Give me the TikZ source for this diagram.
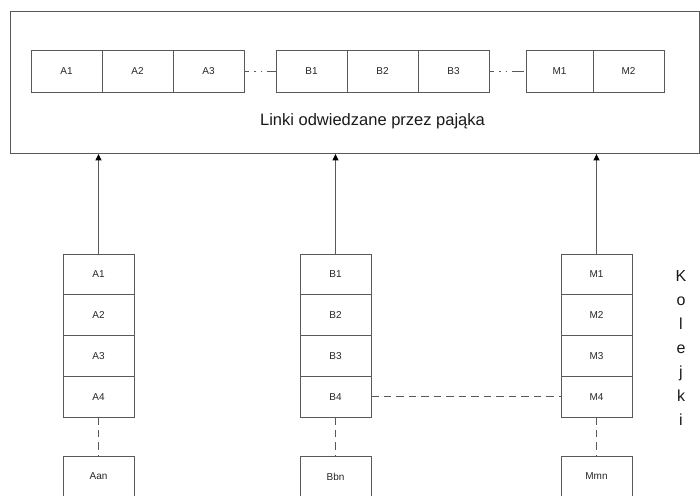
\documentclass[tikz,border=0pt]{standalone}
\usepackage{fontspec}
\setmainfont{Liberation Sans}
\usetikzlibrary{arrows.meta}
\begin{document}
\begin{tikzpicture}[x=1pt,y=-1pt,
  ln/.style={draw=black!65, line width=0.95pt},
  cell/.style={ln, rectangle, minimum width=71pt, minimum height=42pt, inner sep=0pt,
    font=\fontsize{10}{12}\selectfont, text=black!85},
  qcell/.style={cell, minimum height=40.75pt},
  dotdash/.style={ln, dash pattern=on 5pt off 5pt on 1.2pt off 5pt on 1.2pt off 5pt on 12pt},
  dashline/.style={ln, dash pattern=on 7.5pt off 5pt},
  uparrow/.style={ln, -{Triangle[length=6.5pt,width=6pt,color=black]}}
]
\useasboundingbox (0,0) rectangle (700,495);
% outer frame
\node[ln, rectangle, minimum width=689pt, minimum height=142pt, anchor=north west, inner sep=0pt] (outer) at (10,11) {};
% top row
\node[cell] (tA1) at (66.5,71) {A1};
\node[cell] (tA2) at (137.5,71) {A2};
\node[cell] (tA3) at (208.5,71) {A3};
\node[cell] (tB1) at (311.5,71) {B1};
\node[cell] (tB2) at (382.5,71) {B2};
\node[cell] (tB3) at (453.5,71) {B3};
\node[cell, minimum width=67pt] (tM1) at (559.5,71) {M1};
\node[cell] (tM2) at (628.5,71) {M2};
\draw[dotdash] (tA3.east) -- (tB1.west);
\draw[dotdash] (tB3.east) -- (tM1.west);
\node[font=\fontsize{16.5}{20}\selectfont, text=black!90] (lbl) at (372.5,121) {Linki odwiedzane przez pająka};
% queues
\foreach \q/\x in {A/98.5, B/335.5, M/596.5} {
  \node[qcell] (\q1) at (\x,274.4) {\q1};
  \node[qcell] (\q2) at (\x,315.1) {\q2};
  \node[qcell] (\q3) at (\x,355.9) {\q3};
  \node[qcell] (\q4) at (\x,396.6) {\q4};
}
\node[cell, minimum height=41pt] (Aan) at (98.5,476.5) {Aan};
\node[cell, minimum height=41pt] (Bbn) at (335.5,476.5) {Bbn};
\node[cell, minimum height=41pt] (Mmn) at (596.5,476.5) {Mmn};
\draw[dashline] (A4.south) -- (Aan.north);
\draw[dashline] (B4.south) -- (Bbn.north);
\draw[dashline] (M4.south) -- (Mmn.north);
\draw[dashline] (B4.east) -- (M4.west);
\draw[uparrow] (A1.north) -- (A1.north |- outer.south);
\draw[uparrow] (B1.north) -- (B1.north |- outer.south);
\draw[uparrow] (M1.north) -- (M1.north |- outer.south);
\node[font=\fontsize{16}{24}\selectfont, align=center, inner sep=0pt, text=black!90] (kolejki) at (681,348) {K\\o\\l\\e\\j\\k\\i};
\end{tikzpicture}
\end{document}
